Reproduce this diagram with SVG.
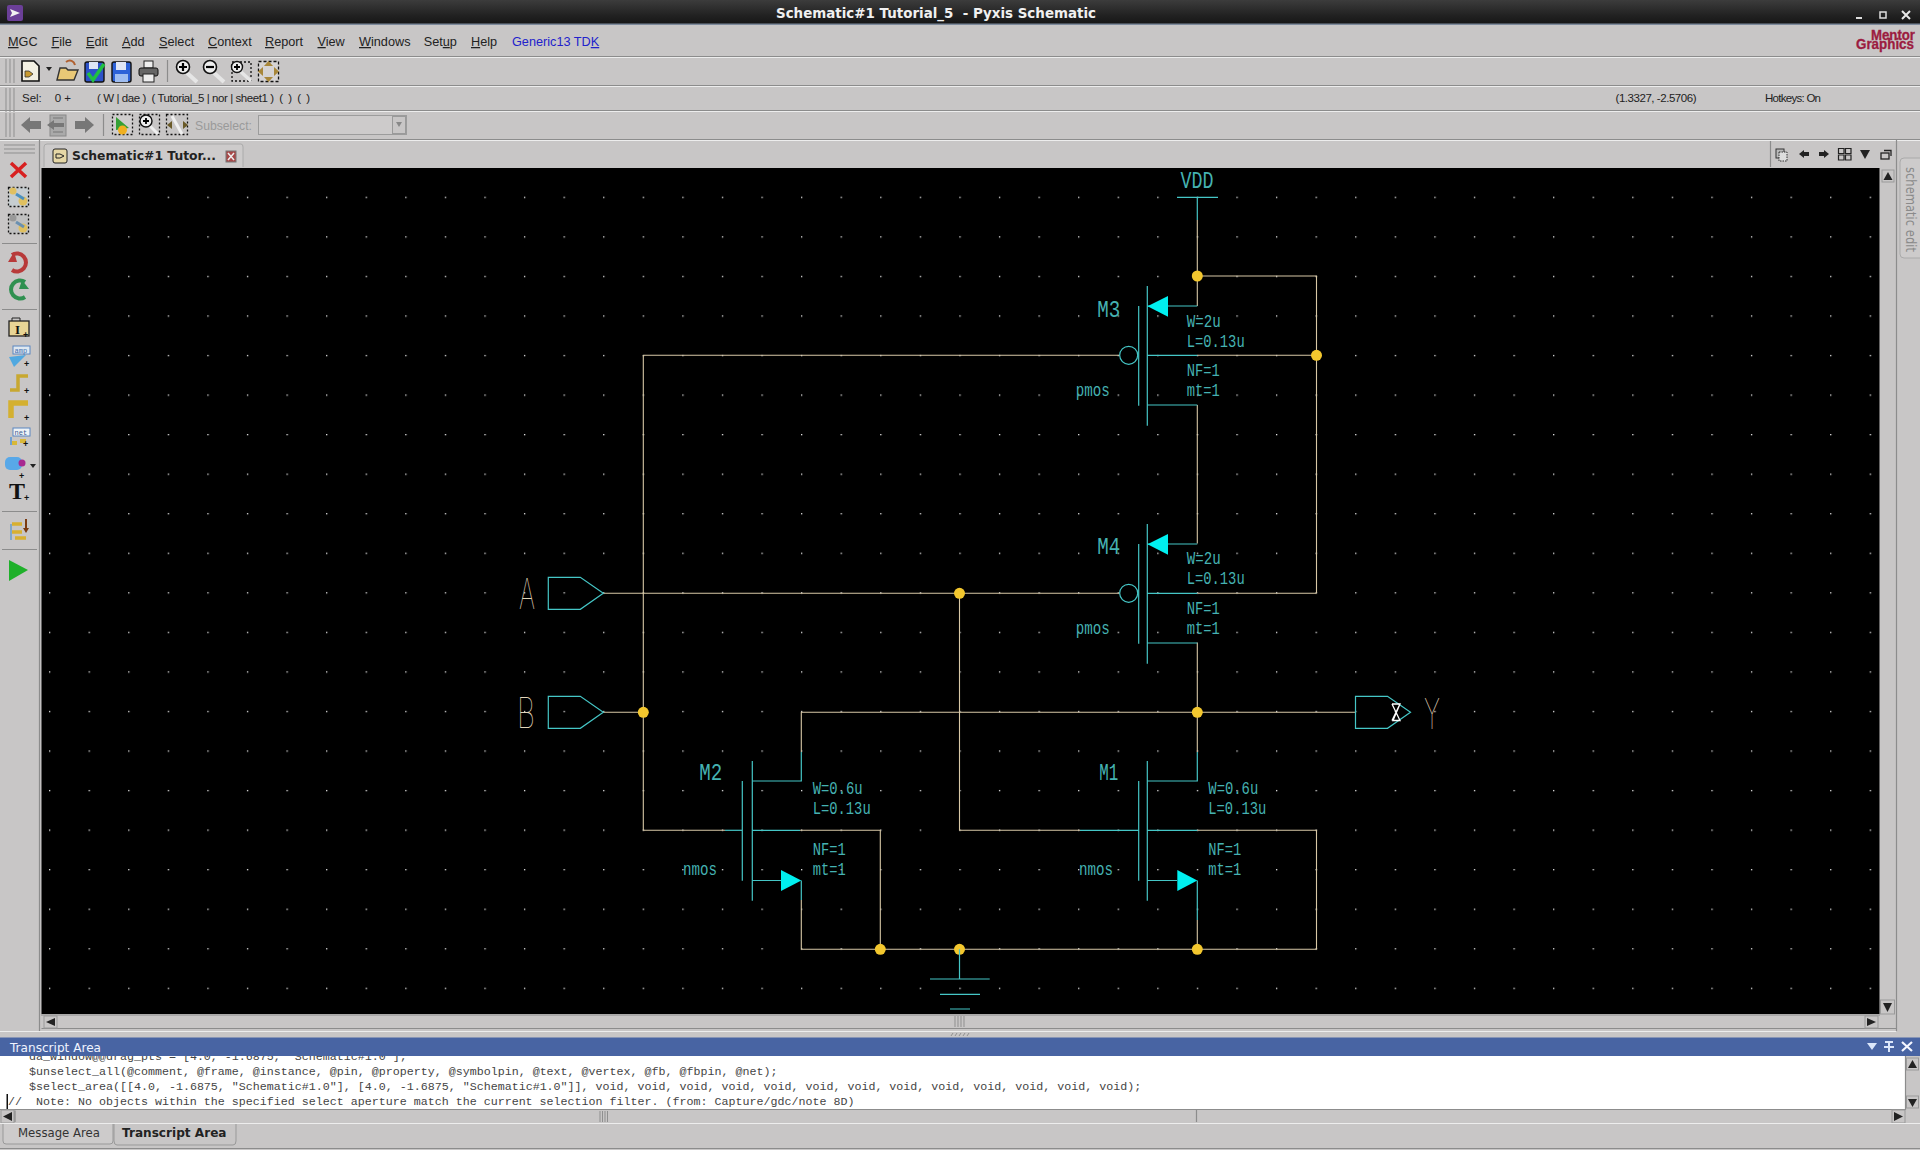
<svg xmlns="http://www.w3.org/2000/svg" width="1920" height="1150" viewBox="0 0 1920 1150">
<style>
text{font-family:"Liberation Sans",Arial,sans-serif;white-space:pre}
.menu{font-size:12.7px;fill:#222}
.menu tspan.u{text-decoration:underline}
.stat{font-size:11.5px;fill:#222}
.lb{font-family:"Liberation Mono",monospace;font-size:18.5px;fill:#45b2b2}
.big{font-family:"Liberation Mono",monospace;font-size:23.5px;fill:#45b2b2}
.pinl{font-family:Inter,Roboto,sans-serif;font-weight:100;font-size:42px;fill:#e2d6bc}
.w{fill:none;stroke:#d8c8a6;stroke-width:1.1}
.c{fill:none;stroke:#45c6c6;stroke-width:1.2}
.dot{fill:#f3c72e}
.tri{fill:#00f0f0}
.sep{stroke:#8c8c8c;stroke-width:1.2;fill:none}
.hl{stroke:#ededed;stroke-width:1;fill:none}
.mono{font-family:"Liberation Mono",monospace;font-size:11.67px;fill:#444}
.btn{fill:#c8c6c6;stroke:#9a9a9a;stroke-width:1}
.arr{fill:#222}
.grip{stroke:#8f8f8f;stroke-width:1;fill:none}
</style>
<defs>
<linearGradient id="tb" x1="0" y1="0" x2="0" y2="1"><stop offset="0" stop-color="#3c3c3c"/><stop offset="0.6" stop-color="#222"/><stop offset="1" stop-color="#141414"/></linearGradient>
<pattern id="gr" patternUnits="userSpaceOnUse" x="49" y="196.7" width="39.58" height="39.55"><rect width="1.3" height="1.3" fill="#e4e4e4"/></pattern>
<g id="handle"><path class="grip" d="M6 0V24M10 0V24M14 0V24"/></g>
<g id="pmosBody"><path class="c" d="M1147.3 286V425.7M1138.7 306V405.7M1147.3 306H1197.3M1147.3 405H1197.3M1147.3 355.3H1197.3"/><circle class="c" cx="1128.7" cy="355.3" r="9"/><polygon class="tri" points="1147.5,306.2 1168,296 1168,316.7"/></g>
<g id="pin"><path class="c" d="M0 -16H32L55 0L32 16H0Z"/></g>
</defs>

<rect width="1920" height="1150" fill="#c8c6c6"/>

<g id="titlebar">
<rect width="1920" height="25" fill="url(#tb)"/>
<rect y="23.5" width="1920" height="1.5" fill="#7d8a9c"/>
<rect x="7" y="5" width="16" height="16" rx="2" fill="#6b3f98"/><polygon points="10,9 20,13 10,17 12,13" fill="#f2f2f2"/>
<text x="936" y="17.5" text-anchor="middle" font-size="13.5" font-weight="700" fill="#f0f0f0" style="font-family:'DejaVu Sans',sans-serif" textLength="320" lengthAdjust="spacingAndGlyphs">Schematic#1 Tutorial_5  - Pyxis Schematic</text>
<path d="M1856 18H1862" stroke="#ddd" stroke-width="2"/><rect x="1880" y="12" width="6" height="6" fill="none" stroke="#ddd" stroke-width="1.5"/><path d="M1902 11L1910 19M1910 11L1902 19" stroke="#e8e8e8" stroke-width="2"/>
</g>

<g id="menubar">
<text class="menu" x="8" y="46"><tspan class="u">M</tspan>GC</text>
<text class="menu" x="51.4" y="46"><tspan class="u">F</tspan>ile</text>
<text class="menu" x="86" y="46"><tspan class="u">E</tspan>dit</text>
<text class="menu" x="122" y="46"><tspan class="u">A</tspan>dd</text>
<text class="menu" x="159" y="46"><tspan class="u">S</tspan>elect</text>
<text class="menu" x="208" y="46"><tspan class="u">C</tspan>ontext</text>
<text class="menu" x="265" y="46"><tspan class="u">R</tspan>eport</text>
<text class="menu" x="317.5" y="46"><tspan class="u">V</tspan>iew</text>
<text class="menu" x="359" y="46"><tspan class="u">W</tspan>indows</text>
<text class="menu" x="423.7" y="46">Set<tspan class="u">u</tspan>p</text>
<text class="menu" x="471" y="46"><tspan class="u">H</tspan>elp</text>
<text class="menu" x="512" y="46" style="fill:#2222cc">Generic13 TD<tspan class="u">K</tspan></text>
<g fill="#9c1c40" stroke="#9c1c40" stroke-width="0.3" font-weight="700" text-anchor="end">
<text x="1915" y="40" font-size="14" textLength="44" lengthAdjust="spacingAndGlyphs">Mentor</text>
<text x="1914" y="49" font-size="14" textLength="58" lengthAdjust="spacingAndGlyphs">Graphics</text>
</g>
</g>

<g id="toolbar-lines">
<path class="sep" d="M0 56.5H1920M0 85.5H1920M0 110.5H1920M0 139.5H1920"/>
<path class="hl" d="M0 57.5H1920M0 86.5H1920M0 111.5H1920M0 140.5H1920"/>
<use href="#handle" y="59"/><use href="#handle" y="88"/><use href="#handle" y="113"/>
<path class="grip" d="M4 145H35M4 149H35M4 153H35"/>
</g>

<g id="toolbar1">
<path d="M22 61H34L39 66V81H22Z" fill="#f3f0e2" stroke="#111" stroke-width="1.6"/><path d="M25 71H29L33 74L29 77H25Z" fill="#c99a30" stroke="#333" stroke-width=".8"/>
<polygon points="46,67 52,67 49,71" fill="#222"/>
<path d="M57 80L60 68H66L68 70H78L74 80Z" fill="#e9c876" stroke="#333" stroke-width="1.4"/><path d="M66 62C70 59 74 61 75 65" fill="none" stroke="#b06030" stroke-width="2"/>
<rect x="85" y="62" width="19" height="20" rx="2" fill="#2d52c8" stroke="#111" stroke-width="1.4"/><rect x="89" y="62" width="9" height="7" fill="#dfe6f5"/><path d="M88 73L93 80L104 64" fill="none" stroke="#20c040" stroke-width="3.5"/>
<rect x="112" y="62" width="19" height="20" rx="2" fill="#2d62d8" stroke="#111" stroke-width="1.4"/><rect x="116" y="62" width="10" height="8" fill="#dfe6f5"/><rect x="115" y="74" width="13" height="8" fill="#9fbdf0"/>
<rect x="144" y="61" width="9" height="7" fill="#eee" stroke="#222"/><rect x="139" y="68" width="19" height="8" rx="2" fill="#666" stroke="#111"/><rect x="143" y="74" width="11" height="8" fill="#eee" stroke="#222"/>
<path class="sep" d="M167.500 60V82"/>
<g id="zoomin"><path d="M186 72L197 82" stroke="#e6e6e6" stroke-width="4"/><circle cx="183" cy="67" r="6.500" fill="#eee" stroke="#111" stroke-width="1.600"/><path d="M179 67H187M183 63V71" stroke="#000" stroke-width="2.200"/></g>
<path d="M213 72L224 82" stroke="#e6e6e6" stroke-width="4"/><circle cx="210" cy="67" r="6.500" fill="#eee" stroke="#111" stroke-width="1.600"/><path d="M206 67H214" stroke="#000" stroke-width="2.200"/>
<rect x="232" y="62" width="19" height="19" fill="none" stroke="#111" stroke-width="1.300" stroke-dasharray="2 2"/><path d="M240 71L251 81" stroke="#e6e6e6" stroke-width="3.500"/><circle cx="237" cy="67" r="5.500" fill="#eee" stroke="#111" stroke-width="1.400"/><path d="M234 67H240M237 64V70" stroke="#000" stroke-width="1.800"/>
<rect x="258.500" y="61.500" width="20" height="20" fill="#d6d4d4" stroke="#111" stroke-width="1.300" stroke-dasharray="3 2"/><polygon points="268.500,61 264,66 273,66" fill="#a8873a"/><polygon points="268.500,82 264,77 273,77" fill="#a8873a"/><polygon points="258,71.500 263,67 263,76" fill="#a8873a"/><polygon points="279,71.500 274,67 274,76" fill="#a8873a"/>
</g>

<g id="statusbar">
<text class="stat" x="22" y="102">Sel:</text>
<text class="stat" x="54.700" y="102">0 +</text>
<text class="stat" x="97" y="102" textLength="213">( W | dae )  ( Tutorial_5 | nor | sheet1 )  (  )  (  )</text>
<text class="stat" x="1615.500" y="102" textLength="81">(1.3327, -2.5706)</text>
<text class="stat" x="1765" y="102" textLength="56">Hotkeys: On</text>
</g>

<g id="toolbar3">
<path d="M21 125L30 117V121H41V129H30V133Z" fill="#777"/>
<rect x="50" y="115" width="16" height="21" fill="#aaa" stroke="#888"/><path d="M47 125L54 120V123H64V127H54V130Z" fill="#777"/><path d="M53 118H63M53 132H63" stroke="#777"/>
<path d="M94 125L85 117V121H75V129H85V133Z" fill="#777"/>
<path class="sep" d="M103.500 114V136"/>
<rect x="112.500" y="114.500" width="20" height="20" fill="#d0cece" stroke="#111" stroke-width="1.300" stroke-dasharray="2 2"/><polygon points="116,117 129,128 122,129 116,130" fill="#35a035"/><circle cx="122.500" cy="130" r="4.500" fill="#f0b020"/>
<rect x="139.500" y="114.500" width="20" height="20" fill="none" stroke="#111" stroke-width="1.300" stroke-dasharray="2 2"/><path d="M150 126L158 134" stroke="#eee" stroke-width="3"/><circle cx="146" cy="121" r="6" fill="#eee" stroke="#111" stroke-width="1.400"/><path d="M143 121H149M146 118V124" stroke="#000" stroke-width="1.800"/>
<rect x="166.500" y="114.500" width="21" height="20" fill="none" stroke="#111" stroke-width="1.300" stroke-dasharray="2 2"/><path d="M172 116L182 134" stroke="#f0f0f0" stroke-width="3"/><path d="M167 125L172 121V129ZM188 125L183 121V129Z" fill="#6a5a28"/>
<text x="195" y="130" font-size="12.500" fill="#9a9a9a" textLength="57" lengthAdjust="spacingAndGlyphs">Subselect:</text>
<rect x="258.500" y="115.500" width="148" height="19" fill="#cdcbcb" stroke="#9c9c9c"/><rect x="392.500" y="116.500" width="13" height="17" class="btn"/><polygon points="396,122 402,122 399,127" fill="#888"/>
</g>

<g id="tabbar">
<path d="M44 167V147Q44 144 47 144H241Q243 144 243 147V167" fill="#cdcbcb" stroke="#aaa"/>
<rect x="53" y="149" width="14" height="14" rx="2" fill="#e6d7a6" stroke="#222"/><path d="M56 154H60L64 156L60 158H56Z" fill="none" stroke="#222"/>
<text x="72" y="160" font-size="13" font-weight="700" fill="#222" style="font-family:'DejaVu Sans',sans-serif" textLength="144" lengthAdjust="spacingAndGlyphs">Schematic#1 Tutor...</text>
<rect x="226" y="151" width="10" height="11" fill="#a84848" stroke="#777"/><path d="M228 153L234 160M234 153L228 160" stroke="#eee" stroke-width="1.500"/>
<path class="sep" d="M1770.500 141V167"/>
<rect x="1776" y="149" width="8" height="9" fill="#bbb" stroke="#333"/><rect x="1779" y="152" width="8" height="9" fill="#ddd" stroke="#333" stroke-dasharray="1.500 1"/>
<path d="M1799 154L1804 150V152H1809V156H1804V158Z" fill="#222"/>
<path d="M1829 154L1824 150V152H1819V156H1824V158Z" fill="#222"/>
<path d="M1838.500 148.500H1844V153.500H1838.500ZM1845.500 148.500H1851V153.500H1845.500ZM1838.500 155H1844V160H1838.500ZM1845.500 155H1851V160H1845.500Z" fill="none" stroke="#222" stroke-width="1.200"/>
<polygon points="1860,150 1870,150 1865,159" fill="#222"/>
<rect x="1881" y="153" width="8" height="6" fill="none" stroke="#222" stroke-width="1.300"/><path d="M1884 150.500H1891V156" fill="none" stroke="#222" stroke-width="1.300"/>
<path class="sep" d="M1896.500 140V1031"/>
<path d="M1920 158H1904Q1900 158 1900 162V254Q1900 258 1904 258H1920" fill="#cdcbcb" stroke="#aaa"/>
<text transform="translate(1905.500 167) rotate(90)" font-size="13.500" fill="#8a8a8a" textLength="85" style="font-family:'DejaVu Sans',sans-serif" lengthAdjust="spacingAndGlyphs">schematic edit</text>
</g>

<g id="lefttools">
<path class="sep" d="M39.500 140V1031M2 243.500H37M2 309.500H37M2 511.500H37M2 549.500H37"/>
<path d="M11 163L26 177M26 163L11 177" stroke="#d82020" stroke-width="3.500"/>
<rect x="8.500" y="187.500" width="20" height="19" fill="#c6cdd0" stroke="#111" stroke-width="1.300" stroke-dasharray="2 2"/><circle cx="13" cy="191" r="3.500" fill="#e0c060"/><circle cx="23" cy="201" r="4.500" fill="#e0c060"/><path d="M16 194L24 199" stroke="#4a90c0" stroke-width="3"/>
<rect x="8.500" y="214.500" width="20" height="19" fill="#c0c0c0" stroke="#111" stroke-width="1.300" stroke-dasharray="2 2"/><circle cx="13" cy="218" r="3.500" fill="#999"/><circle cx="23" cy="228" r="4.500" fill="#e0c060"/><path d="M16 222L24 227" stroke="#6a90b0" stroke-width="3"/>
<path d="M12 255A9 9 0 1 1 12 270" fill="none" stroke="#b83a3a" stroke-width="4"/><polygon points="8,262 14,252 17,262" fill="#b83a3a"/>
<path d="M25 282A9 9 0 1 0 25 297" fill="none" stroke="#2f9050" stroke-width="4"/><polygon points="29,289 22,280 19,289" fill="#2f9050"/>
<rect x="9" y="321" width="20" height="15" fill="#e8d595" stroke="#222" stroke-width="1.300"/><path d="M12 321V318H20V321" fill="none" stroke="#222"/><text x="15" y="334" font-size="13" font-weight="700" fill="#111" style="font-family:'Liberation Serif',serif">I</text><text x="23" y="338" font-size="9" font-weight="700" fill="#111">+</text>
<rect x="13" y="346" width="17" height="8" fill="#dfe8f0" stroke="#5a86c0"/><text x="14.500" y="353" font-size="7" fill="#4470b0" style="font-family:'Liberation Mono',monospace">amp</text><polygon points="9,357 26,355 14,367" fill="#50a8e0"/><text x="24" y="367" font-size="9" font-weight="700" fill="#111">+</text>
<path d="M10 390H18V376H28" fill="none" stroke="#c8a830" stroke-width="3.500"/><text x="24" y="394" font-size="9" font-weight="700" fill="#111">+</text>
<path d="M11 418V403H28" fill="none" stroke="#d4b030" stroke-width="5.500"/><text x="24" y="421" font-size="9" font-weight="700" fill="#111">+</text>
<rect x="13" y="428" width="17" height="8" fill="#eef2f5" stroke="#5a86c0"/><text x="14.500" y="435" font-size="7" fill="#3a5a90" style="font-family:'Liberation Mono',monospace">net</text><path d="M11 443H17M20 441H26" stroke="#d8b838" stroke-width="4"/><path d="M11 437V445" stroke="#70a0d0" stroke-width="2"/><text x="23" y="447" font-size="9" font-weight="700" fill="#111">+</text>
<rect x="5" y="457" width="17" height="13" rx="5" fill="#58a8e8"/><circle cx="22" cy="463" r="3.500" fill="#a82890"/><polygon points="30,464 36,464 33,468" fill="#222"/><text x="19" y="479" font-size="9" font-weight="700" fill="#111">+</text>
<text x="9" y="499" font-size="24" font-weight="700" fill="#111" style="font-family:'Liberation Serif',serif">T</text><text x="24" y="501" font-size="9" font-weight="700" fill="#111">+</text>
<path d="M11 524V540" stroke="#6a9cc8" stroke-width="1.500"/><path d="M12 524H22M12 532H22M15 538H26" stroke="#d8b030" stroke-width="3.500"/><path d="M26 519V530" stroke="#7a3a10" stroke-width="2"/><polygon points="23,528 29,528 26,533" fill="#7a3a10"/>
<polygon points="9,560 28,570 9,581" fill="#1fb02a"/>
</g>

<g id="canvas">
<rect x="41.500" y="168" width="1838" height="846" fill="#000"/>
<rect x="41.500" y="168" width="1838" height="846" fill="url(#gr)"/>
</g>

<g id="connectors">
<path class="w" d="M1197.300 220V276M1197.300 276H1316.500V593.300M1197.300 276V306"/>
<path class="w" d="M643.300 355.300H1119.700M643.300 355.300V830.300H725"/>
<path class="w" d="M1197.300 355.300H1316.500"/>
<path class="w" d="M1197.300 405V543.500"/>
<path class="w" d="M603.300 593.300H1119.700"/>
<path class="w" d="M1197.300 593.300H1316.500"/>
<path class="w" d="M603.300 712.300H643.300"/>
<path class="w" d="M1197.300 642.500V752"/>
<path class="w" d="M801.300 752V712.300H1355"/>
<path class="w" d="M959.500 593.300V830.300H1080"/>
<path class="w" d="M801.300 900V949.300H1316.500V830.300H1197.300"/>
<path class="w" d="M880.300 949.300V830.300H800"/>
<path class="w" d="M1197.300 920V949.300"/>
<g class="dot">
<circle cx="1197.300" cy="276" r="5.500"/><circle cx="1316.500" cy="355.300" r="5.500"/>
<circle cx="959.500" cy="593.300" r="5.500"/><circle cx="643.300" cy="712.300" r="5.500"/>
<circle cx="1197.300" cy="712.300" r="5.500"/><circle cx="880.300" cy="949.300" r="5.500"/>
<circle cx="959.500" cy="949.300" r="5.500"/><circle cx="1197.300" cy="949.300" r="5.500"/>
</g>
</g>

<g id="VDD">
<path class="c" d="M1177 197.300H1218M1197.300 197.300V220"/>
<text class="big" x="1180.500" y="188" textLength="33" lengthAdjust="spacingAndGlyphs">VDD</text>
</g>

<g id="M3">
<use href="#pmosBody"/>
<text class="big" x="1097.300" y="316.700" textLength="23" lengthAdjust="spacingAndGlyphs">M3</text>
<text class="lb" x="1186.700" y="326.700" textLength="34" lengthAdjust="spacingAndGlyphs">W=2u</text>
<text class="lb" x="1186.700" y="346.700" textLength="58" lengthAdjust="spacingAndGlyphs">L=0.13u</text>
<text class="lb" x="1186.700" y="375.700" textLength="33" lengthAdjust="spacingAndGlyphs">NF=1</text>
<text class="lb" x="1186.700" y="395.700" textLength="33" lengthAdjust="spacingAndGlyphs">mt=1</text>
<text class="lb" x="1075.700" y="396" textLength="34" lengthAdjust="spacingAndGlyphs">pmos</text>
</g>

<g id="M4">
<use href="#pmosBody" y="238"/>
<text class="big" x="1097.300" y="553.700" textLength="23" lengthAdjust="spacingAndGlyphs">M4</text>
<text class="lb" x="1186.700" y="563.700" textLength="34" lengthAdjust="spacingAndGlyphs">W=2u</text>
<text class="lb" x="1186.700" y="583.700" textLength="58" lengthAdjust="spacingAndGlyphs">L=0.13u</text>
<text class="lb" x="1186.700" y="613.700" textLength="33" lengthAdjust="spacingAndGlyphs">NF=1</text>
<text class="lb" x="1186.700" y="633.700" textLength="33" lengthAdjust="spacingAndGlyphs">mt=1</text>
<text class="lb" x="1075.700" y="634" textLength="34" lengthAdjust="spacingAndGlyphs">pmos</text>
</g>

<g id="M2">
<path class="c" d="M752.300 761V900.700M742.300 781V880.700M752.300 781H801.300V752M752.300 880.500H781M801.300 880.500V900M752.300 830.300H800"/>
<path class="c" d="M725 830.300H742"/>
<polygon class="tri" points="801.300,880.500 781,870 781,891"/>
<text class="big" x="699.300" y="780" textLength="23" lengthAdjust="spacingAndGlyphs">M2</text>
<text class="lb" x="812.700" y="794" textLength="50" lengthAdjust="spacingAndGlyphs">W=0.6u</text>
<text class="lb" x="812.700" y="814" textLength="58" lengthAdjust="spacingAndGlyphs">L=0.13u</text>
<text class="lb" x="812.700" y="855" textLength="33" lengthAdjust="spacingAndGlyphs">NF=1</text>
<text class="lb" x="812.700" y="875" textLength="33" lengthAdjust="spacingAndGlyphs">mt=1</text>
<text class="lb" x="683" y="875" textLength="34" lengthAdjust="spacingAndGlyphs">nmos</text>
</g>

<g id="M1">
<path class="c" d="M1147.300 761V900.700M1138.700 781V880.700M1147.300 781H1197.300V752M1147.300 880.500H1177M1197.300 880.500V920M1147.300 830.300H1197.300M1080 830.300H1138.700"/>
<polygon class="tri" points="1197.300,880.500 1177.300,870 1177.300,891"/>
<text class="big" x="1099.300" y="780" textLength="19" lengthAdjust="spacingAndGlyphs">M1</text>
<text class="lb" x="1208.300" y="794" textLength="50" lengthAdjust="spacingAndGlyphs">W=0.6u</text>
<text class="lb" x="1208.300" y="814" textLength="58" lengthAdjust="spacingAndGlyphs">L=0.13u</text>
<text class="lb" x="1208.300" y="855" textLength="33" lengthAdjust="spacingAndGlyphs">NF=1</text>
<text class="lb" x="1208.300" y="875" textLength="33" lengthAdjust="spacingAndGlyphs">mt=1</text>
<text class="lb" x="1079" y="875" textLength="34" lengthAdjust="spacingAndGlyphs">nmos</text>
</g>

<g id="GND"><path class="c" d="M959.500 949.300V979M930 979H989.700M940 994.300H980M950 1009H970"/></g>

<g id="pinA"><use href="#pin" x="548.300" y="593.300"/><text class="pinl" x="519" y="609.300" textLength="16" lengthAdjust="spacingAndGlyphs">A</text></g>
<g id="pinB"><use href="#pin" x="548.300" y="712.300"/><text class="pinl" x="517" y="728.300" textLength="18" lengthAdjust="spacingAndGlyphs">B</text></g>
<g id="pinY"><use href="#pin" x="1355.500" y="712.300"/><text class="pinl" x="1424" y="728.500" textLength="16" lengthAdjust="spacingAndGlyphs">Y</text>
<path d="M1392 704H1400L1393 720.500H1400L1392 704M1400 704L1392 720.500" fill="none" stroke="#fff" stroke-width="1.300"/></g>

<g id="canvas-scroll">
<rect x="1882" y="170" width="12" height="12" class="btn"/><polygon points="1883.500,180 1892.500,180 1888,172" fill="#222"/>
<rect x="1880.500" y="1000" width="14" height="14" class="btn"/><polygon points="1883,1003 1892,1003 1887.500,1012" fill="#222"/>
<path class="sep" d="M41.500 1028.500H1897M41 1015H1880"/>
<rect x="44" y="1016" width="13" height="12" class="btn"/><polygon points="55,1018 55,1026 46,1022" fill="#222"/>
<rect x="1865" y="1016" width="13" height="12" class="btn"/><polygon points="1867,1018 1867,1026 1876,1022" fill="#222"/>
<path class="grip" d="M955 1016V1027M958 1016V1027M961 1016V1027M964 1016V1027"/>
<path class="hl" d="M0 1031.500H1896"/><path class="grip" d="M951 1036L953 1033M955 1036L957 1033M959 1036L961 1033M963 1036L965 1033M967 1036L969 1033"/>
</g>

<g id="transcript">
<rect y="1037.500" width="1920" height="18.500" fill="#4864a3"/>
<text x="10" y="1052" font-size="13" fill="#f0f4ff" style="font-family:'DejaVu Sans',sans-serif" textLength="91" lengthAdjust="spacingAndGlyphs">Transcript Area</text>
<polygon points="1867,1043 1877,1043 1872,1050" fill="#dbe6fa"/>
<path d="M1885 1042H1893M1889 1042V1052M1884 1047H1894" stroke="#dbe6fa" stroke-width="2" fill="none"/>
<path d="M1902 1042L1912 1051M1912 1042L1902 1051" stroke="#f4f6ff" stroke-width="2.200"/>
<clipPath id="tc"><rect y="1056" width="1905" height="53"/></clipPath>
<rect y="1056" width="1905" height="53" fill="#fff"/>
<g clip-path="url(#tc)">
<text class="mono" x="29" y="1060">da_window@@drag_pts = [4.0, -1.6875, "Schematic#1.0"];</text>
<text class="mono" x="29" y="1075">$unselect_all(@comment, @frame, @instance, @pin, @property, @symbolpin, @text, @vertex, @fb, @fbpin, @net);</text>
<text class="mono" x="29" y="1090">$select_area([[4.0, -1.6875, "Schematic#1.0"], [4.0, -1.6875, "Schematic#1.0"]], void, void, void, void, void, void, void, void, void, void, void, void, void);</text>
<text class="mono" x="8" y="1105">//  Note: No objects within the specified select aperture match the current selection filter. (from: Capture/gdc/note 8D)</text>
<rect x="6.500" y="1094" width="1.500" height="15" fill="#111"/>
</g>
<path class="sep" d="M0 1109.500H1905M1905.500 1056V1110"/>
<rect x="1906.500" y="1058" width="12" height="12" class="btn"/><polygon points="1908,1068 1917,1068 1912.500,1060" fill="#222"/>
<rect x="1906.500" y="1096" width="12" height="12" class="btn"/><polygon points="1908,1099 1917,1099 1912.500,1107" fill="#222"/>
<rect x="1" y="1110" width="13" height="13" class="btn"/><polygon points="12,1112 12,1121 3,1116.500" fill="#222"/>
<rect x="1892" y="1110" width="13" height="13" class="btn"/><polygon points="1894,1112 1894,1121 1903,1116.500" fill="#222"/>
<path class="sep" d="M15 1110.500V1122M1196.500 1110V1122"/>
<path class="grip" d="M600 1111V1122M602.500 1111V1122M605 1111V1122M607.500 1111V1122"/>
<path class="hl" d="M0 1123.500H1920"/>
</g>

<g id="bottomtabs">
<path d="M3 1124V1141Q3 1144 6 1144H110Q113 1144 113 1141V1124" fill="#cdcbcb" stroke="#999"/>
<path d="M114 1124V1141Q114 1145 117 1145H233Q236 1145 236 1141V1124" fill="#c8c6c6" stroke="#999"/>
<text x="18" y="1137" font-size="13" fill="#333" style="font-family:'DejaVu Sans',sans-serif" textLength="82" lengthAdjust="spacingAndGlyphs">Message Area</text>
<text x="122" y="1137" font-size="13" font-weight="700" fill="#222" style="font-family:'DejaVu Sans',sans-serif" textLength="104.500" lengthAdjust="spacingAndGlyphs">Transcript Area</text>
<path class="sep" d="M0 1148.500H1920"/>
</g>
</svg>
